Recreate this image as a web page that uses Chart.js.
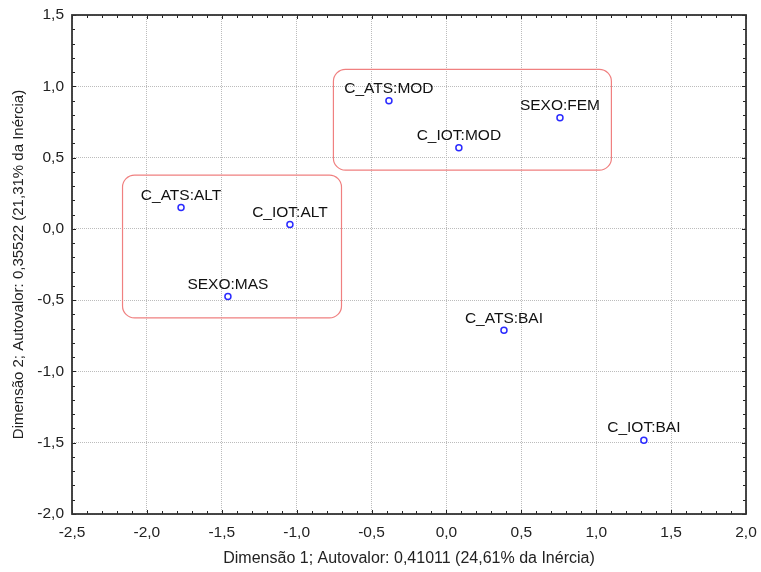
<!DOCTYPE html>
<html>
<head>
<meta charset="utf-8">
<script src="https://cdn.jsdelivr.net/npm/chart.js@4"></script>
<style>
  html, body { margin: 0; padding: 0; background: #fff; }
  #wrap { width: 761px; height: 572px; }
</style>
</head>
<body>
<div id="wrap"><canvas id="chart"></canvas></div>
<script>
const categoryLabels = ['C_ATS:MOD', 'SEXO:FEM', 'C_IOT:MOD', 'C_ATS:ALT', 'C_IOT:ALT', 'SEXO:MAS', 'C_ATS:BAI', 'C_IOT:BAI'];
const dim1 = [-0.384, 0.758, 0.083, -1.772, -1.045, -1.459, 0.384, 1.318];
const dim2 = [0.898, 0.779, 0.569, 0.149, 0.030, -0.474, -0.712, -1.482];

// groups outlined on the map: [x min, x max, y min, y max]
const groupBoxes = [
  [-0.758, 1.098, 0.415, 1.122],
  [-2.166, -0.704, -0.621, 0.380]
];

const xTitle = 'Dimensão 1; Autovalor: 0,41011 (24,61% da Inércia)';
const yTitle = 'Dimensão 2; Autovalor: 0,35522 (21,31% da Inércia)';

const FONT = 'Arial, "Liberation Sans", sans-serif';
const SIZE = 15.5;
const fmt = v => v.toFixed(1).replace('.', ',');

// frame with inward major/minor ticks on all four sides
const framePlugin = {
  id: 'frame',
  afterDatasetsDraw(chart) {
    const { ctx, chartArea: a, scales: { x, y } } = chart;
    ctx.save();
    ctx.strokeStyle = '#222';
    ctx.lineWidth = 1;
    for (let v = -2.5; v <= 2.0001; v += 0.1) {
      const px = Math.round(x.getPixelForValue(v)) + 0.5;
      const major = Math.abs(v * 2 - Math.round(v * 2)) < 1e-6;
      const len = major ? 4 : 3;
      ctx.beginPath();
      ctx.moveTo(px, a.bottom); ctx.lineTo(px, a.bottom - len);
      ctx.moveTo(px, a.top); ctx.lineTo(px, a.top + len);
      ctx.stroke();
    }
    for (let v = -2.0; v <= 1.5001; v += 0.1) {
      const py = Math.round(y.getPixelForValue(v)) + 0.5;
      const major = Math.abs(v * 2 - Math.round(v * 2)) < 1e-6;
      const len = major ? 4 : 3;
      ctx.beginPath();
      ctx.moveTo(a.left, py); ctx.lineTo(a.left + len, py);
      ctx.moveTo(a.right, py); ctx.lineTo(a.right - len, py);
      ctx.stroke();
    }
    ctx.strokeStyle = '#333';
    ctx.lineWidth = 1.8;
    ctx.strokeRect(a.left, a.top, a.right - a.left, a.bottom - a.top);
    ctx.restore();
  }
};

// rounded group outlines and point captions
const annotatePlugin = {
  id: 'annotate',
  afterDatasetsDraw(chart) {
    const { ctx, scales: { x, y } } = chart;
    ctx.save();
    ctx.strokeStyle = '#f08080';
    ctx.lineWidth = 1.2;
    groupBoxes.forEach(b => {
      const x0 = x.getPixelForValue(b[0]), x1 = x.getPixelForValue(b[1]);
      const y0 = y.getPixelForValue(b[3]), y1 = y.getPixelForValue(b[2]);
      ctx.beginPath();
      ctx.roundRect(x0 + 0.5, y0 + 0.5, x1 - x0, y1 - y0, 12);
      ctx.stroke();
    });
    ctx.fillStyle = '#111';
    ctx.font = SIZE + 'px ' + FONT;
    ctx.textAlign = 'center';
    ctx.textBaseline = 'middle';
    categoryLabels.forEach((t, i) => {
      ctx.fillText(t, x.getPixelForValue(dim1[i]), y.getPixelForValue(dim2[i]) - 12);
    });
    ctx.restore();
  }
};

new Chart(document.getElementById('chart'), {
  type: 'scatter',
  data: {
    datasets: [{
      data: dim1.map((v, i) => ({ x: v, y: dim2[i] })),
      pointRadius: 3,
      pointBorderWidth: 1.5,
      pointBorderColor: '#2a2aff',
      pointBackgroundColor: '#fff'
    }]
  },
  options: {
    responsive: true,
    maintainAspectRatio: false,
    animation: false,
    layout: { padding: { left: 0, top: 15, right: 15, bottom: 0 } },
    plugins: { legend: { display: false }, tooltip: { enabled: false } },
    scales: {
      x: {
        min: -2.5, max: 2.0,
        afterFit: s => { s.height = 58; s.paddingLeft = 0; s.paddingRight = 0; },
        border: { display: false, dash: [1, 1] },
        grid: { color: '#bcbcbc', drawTicks: false },
        ticks: { stepSize: 0.5, padding: 9, color: '#222', font: { family: FONT, size: SIZE }, callback: v => fmt(v) },
        title: { display: true, text: xTitle, color: '#222', padding: { top: 4, bottom: 4 }, font: { family: FONT, size: 16 } }
      },
      y: {
        min: -2.0, max: 1.5,
        afterFit: s => { s.width = 72; s.paddingTop = 0; s.paddingBottom = 0; },
        border: { display: false, dash: [1, 1] },
        grid: { color: '#bcbcbc', drawTicks: false },
        ticks: { stepSize: 0.5, padding: 8, color: '#222', font: { family: FONT, size: SIZE }, callback: v => fmt(v) },
        title: { display: true, text: yTitle, color: '#222', padding: { top: 10, bottom: 4 }, font: { family: FONT, size: 15 } }
      }
    }
  },
  plugins: [framePlugin, annotatePlugin]
});
</script>
</body>
</html>
